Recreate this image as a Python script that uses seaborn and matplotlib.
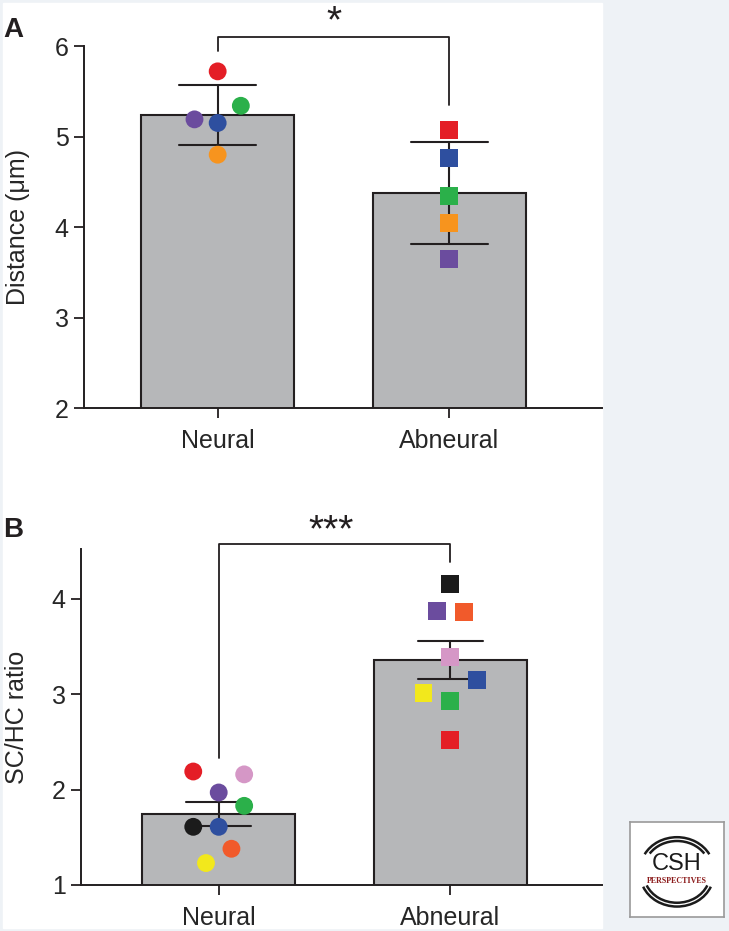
import pandas as pd
import matplotlib.pyplot as plt
import matplotlib.patches as mpatches
import seaborn as sns

sns.set_style("ticks")
plt.rcParams['font.family'] = ['Liberation Sans', 'DejaVu Sans']

groups = ["Neural", "Abneural"]

# Panel A - distance (um), one point per animal
a_group = ["Neural"] * 5 + ["Abneural"] * 5
a_value = [5.72, 5.34, 5.19, 5.15, 4.80,
           5.07, 4.76, 4.34, 4.05, 3.65]
a_animal = ["red", "green", "purple", "blue", "orange",
            "red", "blue", "green", "orange", "purple"]
a_nudge = [0, 0.10, -0.10, 0, 0,
           0, 0, 0, 0, 0]

# Panel B - SC/HC ratio
b_group = ["Neural"] * 8 + ["Abneural"] * 8
b_value = [2.19, 2.16, 1.97, 1.83, 1.61, 1.61, 1.38, 1.23,
           4.16, 3.87, 3.86, 3.39, 3.15, 3.01, 2.93, 2.52]
b_animal = ["red", "pink", "purple", "green", "black", "blue", "orange2", "yellow",
            "black", "purple", "orange2", "pink", "blue", "yellow", "green", "red"]
b_nudge = [-0.11, 0.11, 0, 0.11, -0.11, 0, 0.055, -0.055,
           0, -0.056, 0.06, 0, 0.115, -0.115, 0, 0]

animal_colors = {
    "red": "#e41e26", "green": "#2bb04a", "purple": "#6b4c9e",
    "blue": "#2e4f9f", "orange": "#f7941e", "orange2": "#f15a2b",
    "pink": "#d597c6", "yellow": "#f2e81c", "black": "#1b1b1b",
}

ink = "#231f20"
bar_grey = "#b6b7b9"

W, H = 729, 931
fig = plt.figure(figsize=(W / 100, H / 100), dpi=100)
fig.patch.set_facecolor("#eef2f6")
fig.patches.append(mpatches.Rectangle((3 / W, 3 / H), 599 / W, 925 / H,
                                      transform=fig.transFigure, color="white", zorder=-5))


def draw_panel(ax, df, errorbar, capsize):
    sns.barplot(data=df, x="group", y="value", order=groups, errorbar=errorbar,
                capsize=capsize, width=0.66, color=bar_grey, saturation=1,
                edgecolor=ink, linewidth=1.5,
                err_kws={"color": ink, "linewidth": 1.5}, ax=ax)
    df = df.copy()
    df["xpos"] = df["group"].map({g: i for i, g in enumerate(groups)}) + df["nudge"]
    sns.scatterplot(data=df, x="xpos", y="value", hue="animal", palette=animal_colors,
                    style="group", markers={"Neural": "o", "Abneural": "s"},
                    s=165, linewidth=0, legend=False, ax=ax, zorder=5, clip_on=False)
    sns.despine(ax=ax)
    for sp in ["left", "bottom"]:
        ax.spines[sp].set_linewidth(1.4)
        ax.spines[sp].set_color(ink)
    ax.tick_params(direction="out", length=7, width=1.3, color=ink)
    ax.tick_params(axis="y", labelsize=18, pad=4)
    ax.tick_params(axis="x", labelsize=18, pad=8)
    ax.set_xticks(range(len(groups)))
    ax.set_xticklabels(groups)
    ax.set_xlabel("")


# Panel A
df_a = pd.DataFrame({"group": a_group, "value": a_value, "animal": a_animal, "nudge": a_nudge})
ax_a = fig.add_axes([84 / W, (H - 408.3) / H, 518 / W, 362.3 / H])
draw_panel(ax_a, df_a, "sd", 0.33)
ax_a.set_ylim(2, 6)
ax_a.set_yticks([2, 3, 4, 5, 6])
ax_a.set_xlim(-0.577, 1.659)
ax_a.set_ylabel("Distance (μm)", fontsize=18)
ax_a.yaxis.set_label_coords(-0.105, 0.5)
ax_a.plot([0, 0, 1, 1], [5.94, 6.096, 6.096, 5.35], color=ink, lw=1.3, clip_on=False)
ax_a.text(0.5, 6.15, "*", ha="center", va="baseline", fontsize=28, color=ink)

# Panel B
df_b = pd.DataFrame({"group": b_group, "value": b_value, "animal": b_animal, "nudge": b_nudge})
ax_b = fig.add_axes([81 / W, (H - 885) / H, 521 / W, 335.7 / H])
draw_panel(ax_b, df_b, "se", 0.28)
ax_b.set_ylim(1, 4.52)
ax_b.set_yticks([1, 2, 3, 4])
ax_b.set_xlim(-0.595, 1.656)
ax_b.set_ylabel("SC/HC ratio", fontsize=18)
ax_b.yaxis.set_label_coords(-0.099, 0.5)
ax_b.plot([0, 0, 1, 1], [2.33, 4.58, 4.58, 4.39], color=ink, lw=1.3, clip_on=False)
ax_b.text(0.485, 4.605, "***", ha="center", va="baseline", fontsize=28, color=ink)

# panel letters
fig.text(3 / W, 1 - 37 / H, "A", fontsize=20, fontweight="bold", color=ink)
fig.text(3 / W, 1 - 537 / H, "B", fontsize=20, fontweight="bold", color=ink)

# journal logo, bottom right
logo = fig.add_axes([630 / W, (H - 917) / H, 94 / W, 95 / H])
logo.set_xlim(0, 1)
logo.set_ylim(0, 1)
logo.set_xticks([])
logo.set_yticks([])
for sp in logo.spines.values():
    sp.set_color("#9a9a9a")
    sp.set_linewidth(1.2)
logo.set_facecolor("white")
for r, th in [(0.34, (25, 155)), (0.30, (30, 150))]:
    logo.add_patch(mpatches.Arc((0.5, 0.5), 2 * r + 0.1, 2 * r, theta1=th[0], theta2=th[1],
                                color="#1b1b1b", lw=1.8))
    logo.add_patch(mpatches.Arc((0.5, 0.45), 2 * r + 0.1, 2 * r, theta1=200, theta2=340,
                                color="#1b1b1b", lw=1.8))
logo.text(0.5, 0.56, "CSH", ha="center", va="center", fontsize=17, color="#1b1b1b")
logo.text(0.5, 0.38, "PERSPECTIVES", ha="center", va="center", fontsize=5.8,
          fontweight="bold", color="#8b1a1a", family=["Liberation Serif", "DejaVu Serif"])

fig.savefig("out.png", dpi=100, facecolor=fig.get_facecolor())
